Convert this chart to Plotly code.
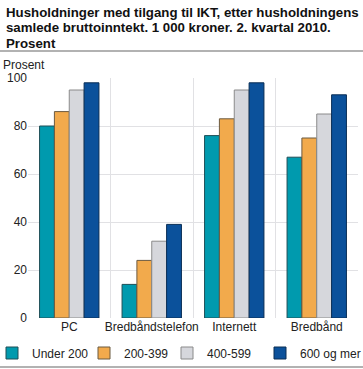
import plotly.graph_objects as go

categories = ["PC", "Bredbåndstelefon", "Internett", "Bredbånd"]
series_names = ["Under 200", "200-399", "400-599", "600 og mer"]
under_200 = [80, 14, 76, 67]
s_200_399 = [86, 24, 83, 75]
s_400_599 = [95, 32, 95, 85]
s_600_mer = [98, 39, 98, 93]
y_ticks = [0, 20, 40, 60, 80, 100]
title_lines = ["Husholdninger med tilgang til IKT, etter husholdningens",
               "samlede bruttoinntekt. 1 000 kroner. 2. kvartal 2010.",
               "Prosent"]

colors = ["#009aae", "#f2aa4c", "#d6d7dc", "#0b519b"]
lines = ["#1f4f57", "#6b5a40", "#8a8a8a", "#0a2e55"]
legend_text_x = [32, 124, 207, 300]

W, H = 363, 369
ML, MR, MT, MB = 28, 5, 78, 51
PW, PH = W - ML - MR, H - MT - MB


def px_x(x):
    return (x - ML) / PW


def px_y(y):
    return (H - MB - y) / PH


fig = go.Figure()
x_idx = list(range(len(categories)))
legend_names = ["legend", "legend2", "legend3", "legend4"]
for name, vals, c, lc, lg in zip(series_names, [under_200, s_200_399, s_400_599, s_600_mer],
                                 colors, lines, legend_names):
    fig.add_trace(go.Bar(x=x_idx, y=vals, name=name, legend=lg,
                         marker=dict(color=c, line=dict(color=lc, width=1))))

# invisible trace on second x-axis to draw category-boundary grid lines
fig.add_trace(go.Scatter(x=[-0.5, 3.5], y=[0, 0], xaxis="x2", mode="markers",
                         marker=dict(opacity=0), showlegend=False, hoverinfo="skip"))

annotations = [dict(text="Prosent", xref="paper", yref="paper", x=px_x(1), y=px_y(64.5),
                    xanchor="left", yanchor="middle", showarrow=False, font=dict(size=12))]
for i, t in enumerate(title_lines):
    annotations.append(dict(text="<b>" + t + "</b>", xref="paper", yref="paper",
                            x=px_x(4), y=px_y(12 + 15.5 * i), xanchor="left", yanchor="middle",
                            showarrow=False, font=dict(size=13.25, color="#111")))

legend_layout = {}
for lg, tx in zip(legend_names, legend_text_x):
    legend_layout[lg] = dict(orientation="h", x=px_x(tx - 40), xanchor="left",
                             y=px_y(353), yanchor="middle", font=dict(size=12),
                             itemwidth=30, bgcolor="rgba(0,0,0,0)")

fig.update_layout(
    width=W, height=H,
    margin=dict(l=ML, r=MR, t=MT, b=MB, autoexpand=False),
    paper_bgcolor="white", plot_bgcolor="white",
    font=dict(family="Liberation Sans, Arial, sans-serif", size=12, color="#222"),
    barmode="group", bargap=0.28, bargroupgap=0,
    xaxis=dict(tickmode="array", tickvals=x_idx, ticktext=categories, range=[-0.5, 3.5],
               showgrid=False, zeroline=False, showline=False, ticks="", tickfont=dict(size=12)),
    xaxis2=dict(overlaying="x", range=[-0.5, 3.5], tickvals=[-0.5, 0.5, 1.5, 2.5, 3.5],
                showticklabels=False, showgrid=True, gridcolor="#e1e1e4", gridwidth=1,
                zeroline=False, ticks=""),
    yaxis=dict(range=[0, 100], tickvals=y_ticks, showgrid=True, gridcolor="#e1e1e4",
               zeroline=False, ticks="", tickfont=dict(size=12), layer="below traces"),
    shapes=[
        dict(type="line", xref="paper", yref="paper", x0=px_x(0), x1=px_x(W), y0=px_y(51), y1=px_y(51),
             line=dict(color="#999", width=1.5)),
        dict(type="line", xref="paper", yref="paper", x0=px_x(0), x1=px_x(W), y0=px_y(367), y1=px_y(367),
             line=dict(color="#999", width=1.5)),
    ],
    annotations=annotations,
    **legend_layout,
)
fig.write_html("out.html", post_script="document.body.style.margin='0';",
               config={"displayModeBar": False})
